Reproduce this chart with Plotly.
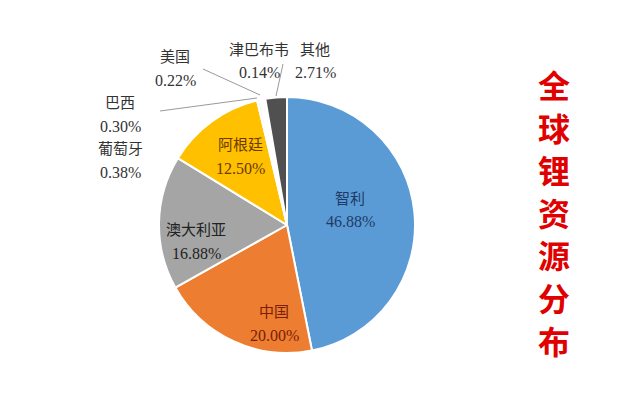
import plotly.graph_objects as go

countries = ["智利", "中国", "澳大利亚", "阿根廷", "葡萄牙", "巴西", "美国", "津巴布韦", "其他"]
shares = [46.88, 20.00, 16.88, 12.50, 0.38, 0.30, 0.22, 0.14, 2.71]
colors = ["#5B9BD5", "#ED7D31", "#A5A5A5", "#FFC000", "#EEF2F7", "#F3F3F3", "#F1F1F1", "#EDEDED", "#505050"]
title_chars = list("全球锂资源分布")

W, H = 640, 399
# label anchor positions in pixels (name line center, value line center)
label_pos = [(350, 198), (274, 312), (196, 230), (240, 145), (120, 149), (120, 103), (175, 57), (259, 50), (315, 50)]
label_col = ["#1F3A68", "#7A1E05", "#222222", "#6B3A00", "#333333", "#333333", "#333333", "#333333", "#333333"]

def px(x):
    return x / W

def py(y):
    return 1 - y / H

fig = go.Figure(go.Pie(
    labels=countries, values=shares, sort=False, direction="clockwise", rotation=0,
    marker=dict(colors=colors, line=dict(color="white", width=2)),
    textinfo="none", hoverinfo="label+percent", showlegend=False,
    domain=dict(x=[px(287 - 128), px(287 + 128)], y=[py(353), py(97)]),
))

font_fam = "Liberation Serif, Noto Sans CJK SC, serif"
ann = []
for name, v, (x, y), c in zip(countries, shares, label_pos, label_col):
    ann.append(dict(x=px(x), y=py(y), xref="paper", yref="paper", text=name, showarrow=False,
                    font=dict(family=font_fam, size=15, color=c), xanchor="center", yanchor="middle"))
    ann.append(dict(x=px(x), y=py(y + 23), xref="paper", yref="paper", text=f"{v:.2f}%", showarrow=False,
                    font=dict(family=font_fam, size=16, color=c), xanchor="center", yanchor="middle"))

# title, vertical
for i, ch in enumerate(title_chars):
    ann.append(dict(x=px(554), y=py(84 + i * 42.6), xref="paper", yref="paper", text=f"<b>{ch}</b>", showarrow=False,
                    font=dict(family="Noto Sans CJK SC", size=32, color="#E00000"),
                    xanchor="center", yanchor="middle"))

leader = [((203, 69), (260, 95)), ((160, 111), (257, 98)), ((283, 64), (276, 96))]
shapes = [dict(type="line", xref="paper", yref="paper", x0=px(a[0]), y0=py(a[1]), x1=px(b[0]), y1=py(b[1]),
               line=dict(color="#999999", width=1)) for a, b in leader]

fig.update_layout(width=W, height=H, margin=dict(l=0, r=0, t=0, b=0),
                  paper_bgcolor="white", plot_bgcolor="white", annotations=ann, shapes=shapes)
fig.write_html("out.html")
